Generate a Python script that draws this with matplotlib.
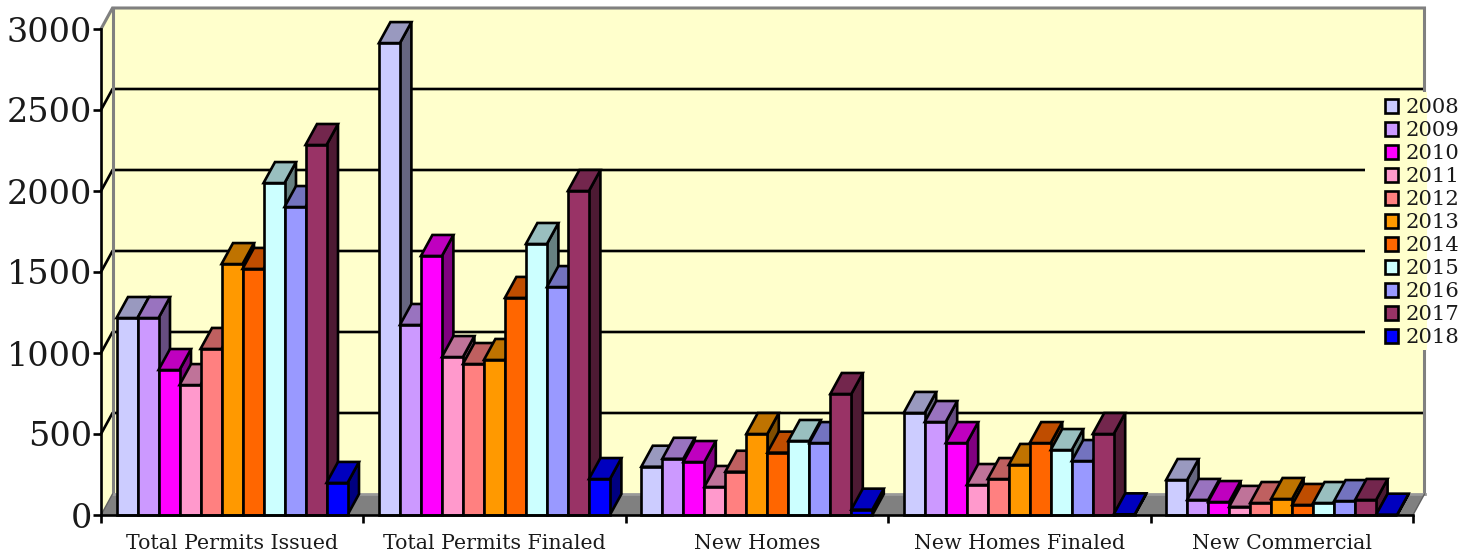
import matplotlib
matplotlib.use("Agg")
import matplotlib.pyplot as plt
from matplotlib.patches import Polygon, Patch, Rectangle
from matplotlib.colors import to_rgb

categories = ["Total Permits Issued", "Total Permits Finaled", "New Homes", "New Homes Finaled", "New Commercial"]
years = ["2008", "2009", "2010", "2011", "2012", "2013", "2014", "2015", "2016", "2017", "2018"]
colors = ["#CCCCFF", "#CC99FF", "#FF00FF", "#FF99CC", "#FF8080", "#FF9900", "#FF6600", "#CCFFFF", "#9999FF", "#993366", "#0000FF"]
v2008 = [1216, 2913, 298, 630, 216]
v2009 = [1216, 1173, 347, 574, 93]
v2010 = [895, 1599, 327, 444, 80]
v2011 = [802, 975, 173, 185, 50]
v2012 = [1025, 932, 267, 222, 74]
v2013 = [1549, 957, 500, 309, 99]
v2014 = [1519, 1340, 385, 444, 62]
v2015 = [2049, 1673, 457, 401, 74]
v2016 = [1901, 1407, 444, 333, 86]
v2017 = [2284, 2000, 747, 500, 93]
v2018 = [198, 222, 33, 4, 2]
series = [v2008, v2009, v2010, v2011, v2012, v2013, v2014, v2015, v2016, v2017, v2018]

W, H = 1475, 557
plt.rcParams["font.family"] = ["DejaVu Serif"]
fig = plt.figure(figsize=(W / 100, H / 100), dpi=100, facecolor="white")
ax = fig.add_axes([101 / W, 1 - 515 / H, 1312 / W, 486 / H])
ax.set_xlim(0, 5)
ax.set_ylim(0, 3000)
ax.patch.set_visible(False)

DX = 11.5 / 262.4
DY = 21 / 0.162
BW = 21 / 262.4
MARGIN = 15.5 / 262.4
GRAY = "#808080"
WALL = "#FFFFCC"
LW = 1.9


def shade(c, f):
    return tuple(x * f for x in to_rgb(c))


def poly(pts, fc, ec="black", lw=LW, z=2):
    ax.add_patch(Polygon(pts, closed=True, facecolor=fc, edgecolor=ec, linewidth=lw,
                         joinstyle="miter", clip_on=False, zorder=z))


# walls and floor
poly([(DX, DY), (5 + DX, DY), (5 + DX, 3000 + DY), (DX, 3000 + DY)], WALL, ec="none", lw=0, z=1)
poly([(0, 0), (DX, DY), (DX, 3000 + DY), (0, 3000)], WALL, ec="none", lw=0, z=1)
poly([(0, 0), (5, 0), (5 + DX, DY), (DX, DY)], GRAY, ec="none", lw=0, z=1)

# gridlines on back and side walls
for val in [500, 1000, 1500, 2000, 2500]:
    ax.plot([0, DX, 5 + DX], [val, val + DY, val + DY], color="black", lw=LW, zorder=1.3, clip_on=False)

# wall outline
ax.plot([0, DX, 5 + DX, 5 + DX], [3000, 3000 + DY, 3000 + DY, DY], color=GRAY, lw=2.2, zorder=1.4, clip_on=False,
        solid_joinstyle="miter")
ax.plot([DX, DX], [DY, 3000 + DY], color=GRAY, lw=2.2, zorder=1.4, clip_on=False)
ax.plot([DX, 5 + DX], [DY, DY], color="#9a9a9a", lw=2, zorder=1.4, clip_on=False)
ax.plot([0, DX], [0, DY], color="#606060", lw=1, zorder=1.4, clip_on=False)
ax.plot([5, 5 + DX], [0, DY], color="#606060", lw=1, zorder=1.4, clip_on=False)

# area behind the legend
to_ax = ax.transData.inverted()
x0, y0 = to_ax.transform((1365, H - 350))
x1, y1 = to_ax.transform((1427, H - 92))
ax.add_patch(Rectangle((x0, y0), x1 - x0, y1 - y0, facecolor=WALL, edgecolor="none", zorder=1.5, clip_on=False))

# bars
for g in range(len(categories)):
    for s, vals in enumerate(series):
        v = vals[g]
        c = colors[s]
        l = g + MARGIN + s * BW
        r = l + BW
        poly([(r, 0), (r + DX, DY), (r + DX, v + DY), (r, v)], shade(c, 0.5))
        poly([(l, v), (r, v), (r + DX, v + DY), (l + DX, v + DY)], shade(c, 0.75))
        poly([(l, 0), (r, 0), (r, v), (l, v)], c)

# axes
for sp in ["top", "right"]:
    ax.spines[sp].set_visible(False)
for sp in ["left", "bottom"]:
    ax.spines[sp].set_linewidth(LW)
    ax.spines[sp].set_zorder(5)
ax.set_yticks([0, 500, 1000, 1500, 2000, 2500, 3000])
ax.set_xticks(range(6))
ax.set_xticklabels([])
ax.tick_params(axis="both", length=6, width=LW, color="black")
ax.tick_params(axis="y", labelsize=24, pad=0.5, labelcolor="#1a1a1a")
for i, name in enumerate(categories):
    ax.annotate(name, xy=(i + 0.5, 0), xycoords="data", xytext=(0, -34), textcoords="offset pixels",
                ha="center", va="baseline", fontsize=14.8, color="#1a1a1a", annotation_clip=False)

handles = [Patch(facecolor=c, edgecolor="black", linewidth=LW, label=y) for c, y in zip(colors, years)]
leg = ax.legend(handles=handles, loc="upper left", bbox_to_anchor=(1379 / W, 1 - 92 / H),
                bbox_transform=fig.transFigure, frameon=False, fontsize=15.2,
                handlelength=0.62, handleheight=0.62, handletextpad=0.33, labelspacing=0.19,
                borderpad=0.3, borderaxespad=0)
leg.set_zorder(6)
for t in leg.get_texts():
    t.set_color("#1a1a1a")

fig.savefig("out.png", dpi=100)
